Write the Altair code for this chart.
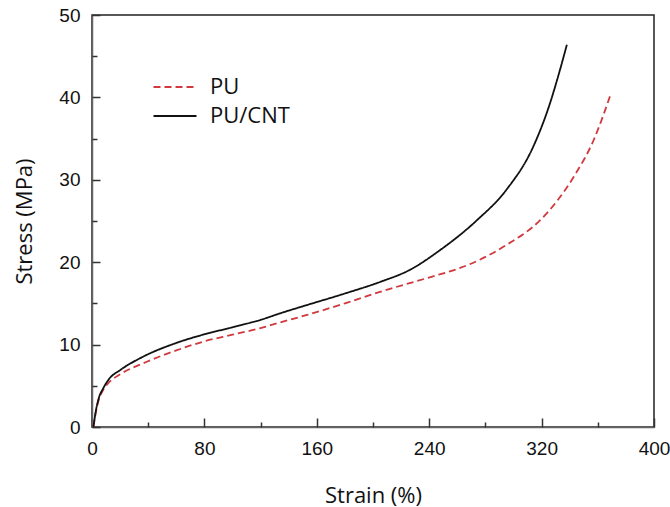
import altair as alt
import pandas as pd

series_names = ["PU", "PU/CNT"]

strain_pu = [1, 3, 5, 8, 12, 20, 36, 60, 79, 100, 120, 134, 153, 180, 205, 241, 262, 276, 295, 319, 343, 357, 369]
stress_pu = [0, 2.0, 3.4, 4.5, 5.4, 6.4, 7.7, 9.3, 10.35, 11.2, 12.0, 12.7, 13.6, 15.0, 16.4, 18.2, 19.3, 20.3, 22.1, 25.1, 30.4, 34.8, 40.3]

strain_cnt = [1, 3, 5, 8, 12, 20, 36, 60, 79, 100, 120, 134, 153, 180, 205, 226, 248, 274, 295, 314, 326, 331, 338]
stress_cnt = [0, 2.2, 3.6, 4.7, 5.8, 6.9, 8.5, 10.2, 11.2, 12.1, 13.0, 13.8, 14.8, 16.2, 17.6, 19.05, 21.5, 25.1, 28.8, 34.0, 39.3, 42.1, 46.4]

x_labels = [0, 80, 160, 240, 320, 400]
x_ticks = [0, 40, 80, 120, 160, 200, 240, 280, 320, 360, 400]
y_labels = [0, 10, 20, 30, 40, 50]
y_ticks = [0, 5, 10, 15, 20, 25, 30, 35, 40, 45, 50]

df = pd.concat([
    pd.DataFrame({"strain": strain_pu, "stress": stress_pu, "series": series_names[0]}),
    pd.DataFrame({"strain": strain_cnt, "stress": stress_cnt, "series": series_names[1]}),
])

xs = alt.Scale(domain=[0, 400], nice=False, zero=False)
ys = alt.Scale(domain=[0, 50], nice=False, zero=False)

legend = alt.Legend(
    title=None, orient="none", legendX=71, legendY=60,
    symbolType="M-2,0H2", symbolSize=462, symbolStrokeWidth=1.8,
    labelFont="Open Sans", labelFontSize=22, labelColor="#111",
    labelOffset=23, rowPadding=6, padding=0,
)
color = alt.Color("series:N", scale=alt.Scale(domain=series_names, range=["#d0393e", "#111111"]), legend=legend)
dash = alt.StrokeDash("series:N", scale=alt.Scale(domain=series_names, range=[[7, 4], [1, 0]]), legend=legend)

label_x = alt.Axis(values=x_labels, orient="bottom", ticks=False, domainColor="#666", domainWidth=1.5,
                   labelFont="Liberation Sans", labelFontSize=19, labelColor="#111", labelPadding=12,
                   labelFlush=False, grid=False, title="Strain (%)", titleFont="Open Sans",
                   titleFontSize=22, titleFontWeight="normal", titleColor="#111", titlePadding=27)
label_y = alt.Axis(values=y_labels, orient="left", ticks=False, domainColor="#666", domainWidth=1.5,
                   labelFont="Liberation Sans", labelFontSize=19, labelColor="#111", labelPadding=12,
                   labelFlush=False, grid=False, title="Stress (MPa)", titleFont="Open Sans",
                   titleFontSize=22, titleFontWeight="normal", titleColor="#111", titlePadding=22)
tick_x = alt.Axis(values=x_ticks, orient="top", offset=-412, labels=False, domain=False, grid=False,
                  tickColor="#333", tickWidth=1.5, title=None,
                  tickSize={"condition": {"test": "datum.value % 80 === 0", "value": 9}, "value": 5})
tick_y = alt.Axis(values=y_ticks, orient="right", offset=-562, labels=False, domain=False, grid=False,
                  tickColor="#333", tickWidth=1.5, title=None,
                  tickSize={"condition": {"test": "datum.value % 10 === 0", "value": 8}, "value": 5})

pu = alt.Chart(df).transform_filter(alt.datum.series == series_names[0]).mark_line(
    strokeWidth=1.8, interpolate="monotone").encode(
    x=alt.X("strain:Q", scale=xs, axis=label_x),
    y=alt.Y("stress:Q", scale=ys, axis=label_y),
    color=color, strokeDash=dash,
)
cnt = alt.Chart(df).transform_filter(alt.datum.series == series_names[1]).mark_line(
    strokeWidth=1.8, interpolate="monotone").encode(
    x=alt.X("strain:Q", scale=xs, axis=tick_x),
    y=alt.Y("stress:Q", scale=ys, axis=tick_y),
    color=color, strokeDash=dash,
)

chart = alt.layer(pu, cnt).resolve_axis(x="independent", y="independent").properties(
    width=562, height=412,
    autosize=alt.AutoSizeParams(type="none"),
    padding={"left": 92, "top": 15, "right": 16, "bottom": 80},
    background="white",
).configure_view(stroke="#222", strokeWidth=1.5)

chart.save("out.html", embed_options={"renderer": "svg", "actions": False})
